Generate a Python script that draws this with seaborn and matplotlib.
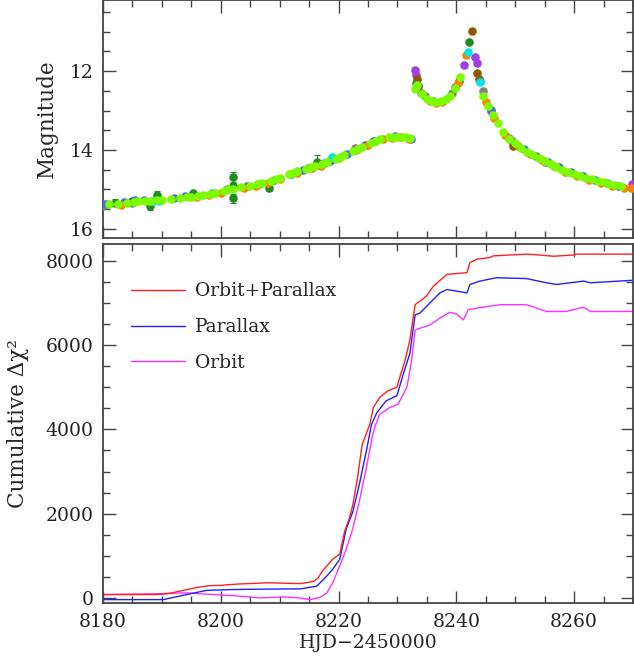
import pandas as pd
import numpy as np
import matplotlib
matplotlib.use('Agg')
import matplotlib.pyplot as plt
from matplotlib.ticker import MultipleLocator
import seaborn as sns

sns.set_style('ticks')
plt.rcParams['font.family'] = ['DejaVu Serif']
plt.rcParams['mathtext.fontset'] = 'dejavuserif'

# ---- light curve points, one list pair per site ----
lime_t = [8181, 8182.5, 8184, 8185.2, 8186, 8187.2, 8188, 8189.2, 8190, 8191.5, 8193, 8194.2,
          8195, 8196.2, 8197, 8198.2, 8199, 8200.5, 8201.3,
          8202, 8203.5, 8205, 8206.2, 8207, 8208.5, 8209.3, 8210, 8211.5, 8212.3, 8213, 8214.5,
          8215.3, 8216, 8217.2, 8218, 8219.5,
          8220.3, 8221, 8222.5, 8223.3, 8224, 8225.5, 8226.3, 8227, 8228.5, 8229.3, 8230, 8230.8,
          8231.5, 8232.2,
          8233.0, 8233.3, 8234.2, 8235.0, 8235.8, 8236.6, 8237.4, 8238.2, 8239.0, 8239.8, 8240.6,
          8244.6, 8245.4, 8246.2, 8247.0, 8248.0, 8249.0, 8250.0, 8251.0, 8252.0, 8253.0, 8254.0,
          8255.0, 8256.0, 8257.0, 8258.0, 8259.0, 8260.0, 8261.0, 8262.0, 8263.0, 8264.0, 8265.0,
          8266.0, 8267.0, 8268.0]
lime_m = [15.38, 15.36, 15.33, 15.31, 15.30, 15.29, 15.28, 15.27, 15.26, 15.24, 15.22, 15.20,
          15.18, 15.16, 15.14, 15.11, 15.08, 15.03, 15.00,
          14.98, 14.94, 14.90, 14.87, 14.84, 14.78, 14.74, 14.70, 14.62, 14.58, 14.54, 14.47,
          14.44, 14.40, 14.35, 14.31, 14.22,
          14.17, 14.12, 14.03, 13.98, 13.93, 13.82, 13.77, 13.72, 13.67, 13.66, 13.66, 13.67,
          13.68, 13.70,
          12.45, 12.35, 12.58, 12.70, 12.76, 12.78, 12.77, 12.72, 12.62, 12.42, 12.16,
          12.62, 12.88, 13.12, 13.32, 13.55, 13.72, 13.83, 13.94, 14.04, 14.13, 14.21,
          14.29, 14.36, 14.43, 14.50, 14.56, 14.61, 14.66, 14.70, 14.74, 14.78, 14.82,
          14.86, 14.89, 14.92]

orange_t = [8183, 8196, 8198, 8200, 8204, 8206, 8208, 8210, 8213, 8215.5, 8217, 8220, 8223,
            8225, 8227.5, 8229, 8230.5, 8232, 8235.5, 8236.5, 8237.5, 8240.2, 8241.7, 8245.0,
            8246.4, 8248.3, 8250.5, 8252.5, 8254.5, 8256.5, 8258.5, 8260.5, 8262.5, 8264.5,
            8266.5, 8268.5, 8269.8]
orange_m = [15.39, 15.19, 15.13, 15.08, 14.96, 14.90, 14.83, 14.74, 14.59, 14.46, 14.40, 14.21,
            14.01, 13.87, 13.72, 13.69, 13.68, 13.71, 12.76, 12.80, 12.78, 12.30, 11.60, 12.78,
            13.20, 13.63, 13.90, 14.10, 14.26, 14.41, 14.56, 14.66, 14.75, 14.83,
            14.90, 14.96, 14.97]

blue_t = [8180.5, 8183.5, 8185.5, 8187, 8192, 8194, 8198.5, 8201, 8204.5, 8206.5, 8209, 8212,
          8214, 8217.5, 8219, 8221.5, 8224.5, 8226, 8229.5, 8232.3, 8236, 8245.8, 8249.5, 8251.5,
          8253.5, 8255.5, 8257.5, 8259.5, 8261.5, 8263.5, 8265.5, 8267.5]
blue_m = [15.36, 15.32, 15.27, 15.26, 15.21, 15.17, 15.08, 15.00, 14.91, 14.85, 14.76, 14.60,
          14.50, 14.32, 14.24, 14.09, 13.88, 13.77, 13.64, 13.72, 12.76, 12.98, 13.77, 13.97,
          14.15, 14.30, 14.44, 14.56, 14.66, 14.75, 14.83, 14.90]

gray_t = [8180, 8185, 8214.8, 8218.5, 8222.8, 8225.8, 8233.4, 8234, 8234.6, 8239.3, 8244,
          8244.6, 8248.9, 8255]
gray_m = [15.41, 15.33, 14.46, 14.28, 13.96, 13.76, 12.38, 12.55, 12.62, 12.55, 12.26,
          12.50, 13.70, 14.30]

purple_t = [8180, 8233.0, 8233.2, 8241.3, 8243.2, 8243.5, 8245.8, 8269.8]
purple_m = [15.38, 11.98, 12.10, 11.85, 11.64, 11.80, 13.00, 14.85]

cyan_t = [8188.5, 8189.5, 8218.8, 8241.9, 8244.0]
cyan_m = [15.30, 15.29, 14.17, 11.51, 12.27]

brown_t = [8233.3, 8233.5, 8239.8, 8242.6, 8243.5, 8243.8, 8249.6]
brown_m = [12.20, 12.38, 12.40, 10.99, 12.06, 12.20, 13.90]

dkgreen_t = [8182, 8185, 8188, 8189.1, 8195.3, 8202.1, 8202.1, 8202.1, 8208.1, 8216.3,
             8233.1, 8240.5, 8242.2, 8269.8]
dkgreen_m = [15.33, 15.28, 15.43, 15.14, 15.10, 14.68, 14.92, 15.22, 14.97, 14.30,
             12.30, 12.25, 11.26, 14.95]
dkgreen_e = [0.08, 0.06, 0.10, 0.09, 0.07, 0.13, 0.08, 0.11, 0.06, 0.18,
             0.03, 0.03, 0.03, 0.03]

# ---- cumulative delta chi2 curves ----
op_t = [8180, 8189, 8191, 8193, 8196, 8198, 8200, 8203, 8208, 8213.5, 8215.7, 8216.5, 8217.3,
        8218.2, 8219, 8220.2, 8221, 8221.8, 8222.4, 8223.2, 8224, 8225.3, 8225.9, 8227, 8228.4,
        8229.9, 8230.4, 8231.3, 8232.1, 8233, 8234.9, 8236.1, 8238.4, 8241.8, 8242.3, 8243.5,
        8245.7, 8246.3, 8251.9, 8254, 8256.5, 8259.9, 8260.4, 8270]
op_v = [80, 80, 100, 160, 250, 290, 300, 330, 360, 340, 390, 470, 650,
        790, 920, 1040, 1570, 1880, 2200, 2840, 3640, 4120, 4520, 4760, 4920,
        5000, 5240, 5640, 6120, 6960, 7160, 7400, 7680, 7720, 7960, 8040,
        8080, 8120, 8160, 8140, 8110, 8140, 8160, 8160]

px_t = [8180, 8190.2, 8194.2, 8197.6, 8202.1, 8208, 8213.5, 8216.3, 8218, 8219, 8220.2,
        8221.3, 8222.4, 8223.5, 8224.7, 8225.6, 8226.5, 8228.1, 8229.9, 8231, 8232.1, 8233,
        8233.8, 8235.5, 8237.2, 8238.4, 8241.8, 8242.3, 8244, 8246.8, 8251.9, 8255.3, 8257,
        8261.6, 8262.8, 8270]
px_v = [-40, -40, 80, 180, 200, 210, 215, 280, 520, 680, 920,
        1640, 2040, 2680, 3480, 4120, 4400, 4680, 4800, 5320, 5800, 6720,
        6760, 7000, 7240, 7320, 7240, 7440, 7520, 7600, 7580, 7480, 7440,
        7520, 7480, 7540]

orb_t = [8180, 8189.1, 8194.2, 8198.7, 8202.1, 8206.7, 8210.7, 8213.4, 8215.2, 8216.9, 8218,
         8219, 8220.2, 8221.3, 8222.4, 8223.5, 8224.7, 8225.8, 8226.2, 8227, 8228.7, 8230.1,
         8231.6, 8232.4, 8233, 8233.8, 8235.5, 8237.2, 8238.9, 8240, 8241.2, 8242, 8243.5,
         8247.4, 8251.9, 8255.3, 8258.7, 8261.6, 8262.7, 8270]
orb_v = [80, 100, 120, 80, 55, 0, 25, 0, -40, 15, 120,
         360, 760, 1160, 1640, 2280, 3080, 3880, 4080, 4360, 4520, 4600,
         5000, 5640, 6360, 6400, 6480, 6640, 6780, 6740, 6600, 6840, 6880,
         6960, 6960, 6800, 6800, 6900, 6800, 6800]

sites = [
    ('dkgreen', dkgreen_t, dkgreen_m, '#228B22'),
    ('purple', purple_t, purple_m, '#A040E0'),
    ('gray', gray_t, gray_m, '#808080'),
    ('blue', blue_t, blue_m, '#4A70E8'),
    ('brown', brown_t, brown_m, '#8B5A00'),
    ('orange', orange_t, orange_m, '#FF8000'),
    ('cyan', cyan_t, cyan_m, '#00E5EE'),
    ('lime', lime_t, lime_m, '#7CFC00'),
]

fig = plt.figure(figsize=(6.34, 6.66), dpi=100)
ax1 = fig.add_axes([0.1625, 0.6426, 0.836, 0.3574])
ax2 = fig.add_axes([0.1625, 0.0946, 0.836, 0.539])

# top panel: light curve
ax1.errorbar(dkgreen_t, dkgreen_m, yerr=dkgreen_e, fmt='none', ecolor='#228B22',
             elinewidth=0.8, capsize=2.5, capthick=0.8, zorder=2)
for name, t, m, col in sites:
    sns.scatterplot(x=t, y=m, color=col, s=38, linewidth=0, ax=ax1, zorder=3)

ax1.set_xlim(8180, 8270)
ax1.set_ylim(16.23, 10.2)
ax1.set_ylabel('Magnitude', fontsize=15.5)
ax1.set_xlabel('')
ax1.yaxis.set_major_locator(MultipleLocator(2))
ax1.yaxis.set_minor_locator(MultipleLocator(0.5))
ax1.tick_params(labelbottom=False)
ax1.yaxis.set_label_coords(-0.085, 0.5)

# bottom panel: cumulative delta chi2
curves = pd.concat([
    pd.DataFrame({'t': op_t, 'v': op_v, 'model': 'Orbit+Parallax'}),
    pd.DataFrame({'t': px_t, 'v': px_v, 'model': 'Parallax'}),
    pd.DataFrame({'t': orb_t, 'v': orb_v, 'model': 'Orbit'}),
])
pal = {'Orbit+Parallax': '#FF2020', 'Parallax': '#2020FF', 'Orbit': '#FF30FF'}
sns.lineplot(data=curves, x='t', y='v', hue='model', palette=pal,
             hue_order=['Orbit', 'Parallax', 'Orbit+Parallax'],
             linewidth=1.0, estimator=None, ax=ax2)

ax2.set_xlim(8180, 8270)
ax2.set_ylim(-120, 8400)
ax2.set_xlabel('HJD\u22122450000', fontsize=13.5)
ax2.set_ylabel('Cumulative \u0394\u03c7\u00b2', fontsize=15.5)
ax2.yaxis.set_major_locator(MultipleLocator(2000))
ax2.yaxis.set_minor_locator(MultipleLocator(500))
ax2.yaxis.set_label_coords(-0.14, 0.5)
ax2.xaxis.set_label_coords(0.5, -0.085)

handles, labels = ax2.get_legend_handles_labels()
order = ['Orbit+Parallax', 'Parallax', 'Orbit']
hd = dict(zip(labels, handles))
ax2.legend([hd[k] for k in order], order, loc='upper left', bbox_to_anchor=(0.052, 0.893),
           frameon=False, fontsize=13.5, handlelength=2.9, handletextpad=0.55,
           labelspacing=0.95, borderpad=0, borderaxespad=0)

for ax in (ax1, ax2):
    ax.xaxis.set_major_locator(MultipleLocator(20))
    ax.xaxis.set_minor_locator(MultipleLocator(5))
    ax.tick_params(which='both', direction='in', top=True, right=True,
                   color='#444444', width=1.0, labelsize=13.5, labelcolor='#222222', pad=7)
    ax.tick_params(which='major', length=9)
    ax.tick_params(which='minor', length=5)
    for sp in ax.spines.values():
        sp.set_color('#444444')
        sp.set_linewidth(1.3)

fig.savefig('out.png', dpi=100)
